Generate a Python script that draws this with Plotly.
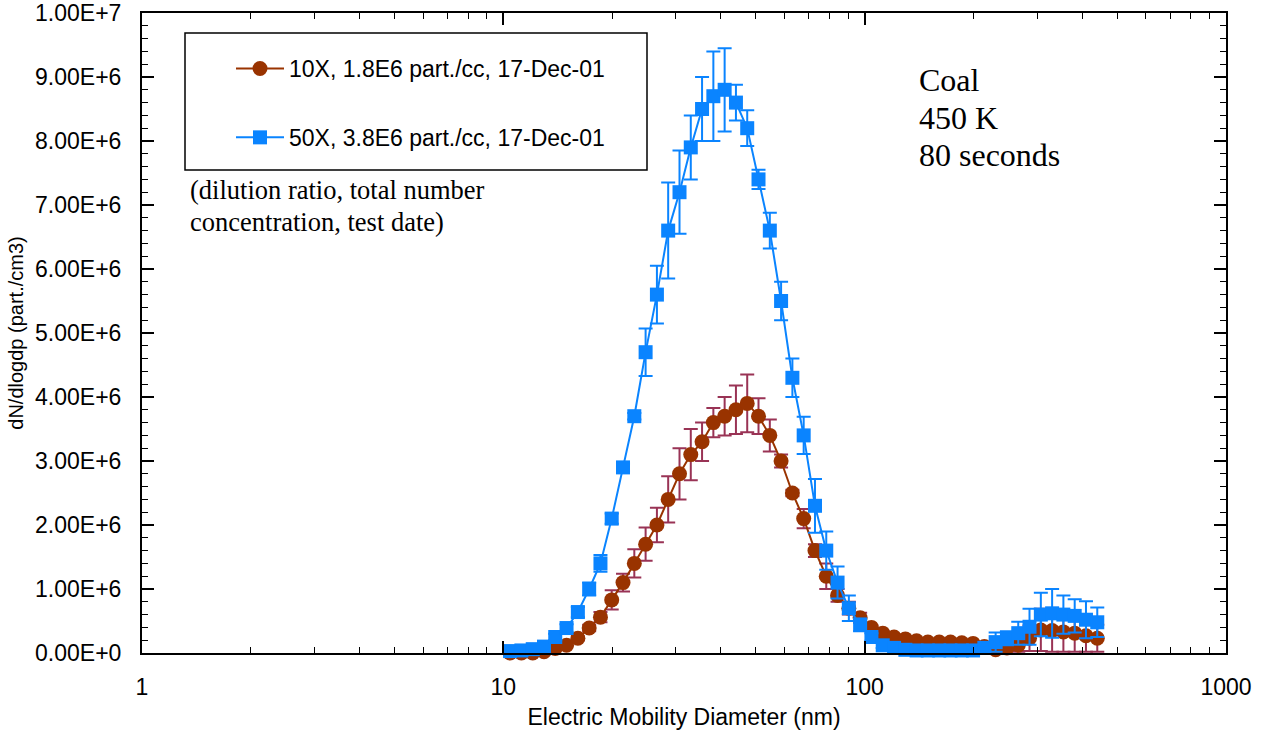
import plotly.graph_objects as go

# Channel diameters (nm)
diam = [10.44, 11.22, 12.06, 12.96, 13.92, 14.96, 16.08, 17.28, 18.57, 19.95,
        21.44, 23.04, 24.76, 26.61, 28.59, 30.73, 33.02, 35.48, 38.13, 40.97,
        44.03, 47.31, 50.84, 54.64, 58.71, 63.09, 67.80, 72.86, 78.29, 84.13,
        90.41, 97.15, 104.4, 112.2, 120.6, 129.6, 139.2, 149.6, 160.8, 172.8,
        185.7, 199.5, 214.4, 230.4, 247.6, 266.1, 285.9, 307.3, 330.2, 354.8,
        381.3, 409.7, 440.3]

# 10X series (millions of part./cm3)
red_vals = [0.0, 0.0, 0.0, 0.02, 0.07, 0.12, 0.23, 0.39, 0.56, 0.83,
            1.1, 1.4, 1.7, 2.0, 2.4, 2.8, 3.1, 3.3, 3.6, 3.7,
            3.8, 3.9, 3.7, 3.4, 3.0, 2.5, 2.1, 1.6, 1.2, 0.9,
            0.7, 0.55, 0.4, 0.31, 0.25, 0.22, 0.19, 0.17, 0.17, 0.17,
            0.16, 0.15, 0.1, 0.05, 0.08, 0.12, 0.23, 0.36, 0.35, 0.33,
            0.31, 0.27, 0.23]
red_err = [0.01, 0.01, 0.01, 0.01, 0.01, 0.01, 0.03, 0.05, 0.08, 0.15,
           0.14, 0.22, 0.26, 0.27, 0.36, 0.4, 0.4, 0.3, 0.23, 0.3,
           0.38, 0.45, 0.28, 0.25, 0.1, 0.05, 0.15, 0.1, 0.2, 0.1,
           0.1, 0.08, 0.03, 0.03, 0.03, 0.03, 0.03, 0.03, 0.03, 0.03,
           0.03, 0.03, 0.03, 0.03, 0.05, 0.1, 0.2, 0.33, 0.33, 0.31,
           0.29, 0.25, 0.21]

# 50X series (millions of part./cm3)
blue_vals = [0.03, 0.04, 0.06, 0.1, 0.25, 0.39, 0.64, 1.0, 1.4, 2.1,
             2.9, 3.7, 4.7, 5.6, 6.6, 7.2, 7.9, 8.5, 8.7, 8.8,
             8.6, 8.2, 7.4, 6.6, 5.5, 4.3, 3.4, 2.3, 1.6, 1.1,
             0.7, 0.44, 0.25, 0.12, 0.08, 0.05, 0.04, 0.04, 0.04, 0.04,
             0.04, 0.04, 0.08, 0.17, 0.23, 0.31, 0.41, 0.6, 0.62, 0.6,
             0.58, 0.52, 0.48]
blue_err = [0.02, 0.02, 0.03, 0.03, 0.05, 0.06, 0.08, 0.1, 0.13, 0.08,
            0.06, 0.05, 0.37, 0.45, 0.75, 0.65, 0.5, 0.5, 0.7, 0.65,
            0.28, 0.28, 0.15, 0.28, 0.3, 0.3, 0.29, 0.42, 0.3, 0.25,
            0.2, 0.1, 0.06, 0.04, 0.02, 0.02, 0.02, 0.02, 0.02, 0.02,
            0.02, 0.02, 0.05, 0.15, 0.11, 0.18, 0.28, 0.34, 0.38, 0.3,
            0.26, 0.29, 0.23]

red_name = "10X, 1.8E6 part./cc, 17-Dec-01"
blue_name = "50X, 3.8E6 part./cc, 17-Dec-01"

y_ticks = [i * 1e6 for i in range(11)]
y_ticktext = ["0.00E+0", "1.00E+6", "2.00E+6", "3.00E+6", "4.00E+6", "5.00E+6",
              "6.00E+6", "7.00E+6", "8.00E+6", "9.00E+6", "1.00E+7"]
x_ticks = [1, 10, 100, 1000]
x_ticktext = ["1", "10", "100", "1000"]
x_minor = [m * 10 ** e for e in range(0, 3) for m in range(2, 10)]

RED = "#993300"
RED_ERR = "#993355"
BLUE = "#0A84FF"
ARIAL = "Liberation Sans, Arial, sans-serif"
TIMES = "Liberation Serif, Times New Roman, serif"

fig = go.Figure()
fig.add_trace(go.Scatter(
    x=diam, y=[v * 1e6 for v in red_vals], name=red_name, legendgroup="a",
    mode="lines+markers", cliponaxis=False,
    line=dict(color=RED, width=2),
    marker=dict(symbol="circle", size=15, color=RED),
    error_y=dict(type="data", array=[e * 1e6 for e in red_err], color=RED_ERR,
                 thickness=2, width=7),
))
fig.add_trace(go.Scatter(
    x=diam, y=[v * 1e6 for v in blue_vals], name=blue_name, legendgroup="b",
    mode="lines+markers", cliponaxis=False,
    line=dict(color=BLUE, width=2),
    marker=dict(symbol="square", size=14, color=BLUE),
    error_y=dict(type="data", array=[e * 1e6 for e in blue_err], color=BLUE,
                 thickness=2, width=7),
))

W, H = 1262, 733
L, T = 142, 13
pw, ph = 1084, 640
R, B = W - L - pw, H - T - ph


def px(xp):
    return (xp - L) / pw


def py(yp):
    return (H - B - yp) / ph


fig.add_shape(type="rect", xref="paper", yref="paper",
              x0=px(185), x1=px(647), y0=py(170), y1=py(33),
              line=dict(color="black", width=1.5), fillcolor="rgba(0,0,0,0)")

annots = [
    ("(dilution ratio, total number", 188, 190, 26.5),
    ("concentration, test date)", 188, 222, 26.5),
    ("Coal", 917, 80, 32),
    ("450 K", 917, 118, 32),
    ("80 seconds", 917, 155, 32),
]
for txt, xp, yp, fs in annots:
    fig.add_annotation(text=txt, xref="paper", yref="paper", x=px(xp), y=py(yp),
                       xanchor="left", yanchor="middle", showarrow=False,
                       font=dict(family=TIMES, size=fs, color="black"))

fig.update_layout(
    width=W, height=H,
    margin=dict(l=L, r=R, t=T, b=B, autoexpand=False),
    paper_bgcolor="white", plot_bgcolor="white",
    font=dict(family=ARIAL, size=23, color="black"),
    showlegend=True,
    legend=dict(x=px(231), y=py(47), xanchor="left", yanchor="top",
                bgcolor="rgba(0,0,0,0)", borderwidth=0,
                font=dict(family=ARIAL, size=23, color="black"),
                tracegroupgap=36, itemwidth=48),
)
fig.update_xaxes(
    type="log", range=[0, 3], tickvals=x_ticks, ticktext=x_ticktext,
    ticks="inside", ticklen=12, tickwidth=1.5, tickcolor="black",
    minor=dict(tickvals=x_minor, ticks="inside", ticklen=6, tickwidth=1, tickcolor="black"),
    showline=True, linecolor="black", linewidth=2, mirror="allticks",
    showgrid=False, zeroline=False, ticklabelstandoff=12, automargin=False,
    tickfont=dict(family=ARIAL, size=23),
    title=dict(text="Electric Mobility Diameter (nm)", font=dict(family=ARIAL, size=23), standoff=10),
)
fig.update_yaxes(
    range=[0, 1e7], tickvals=y_ticks, ticktext=y_ticktext,
    ticks="inside", ticklen=12, tickwidth=1.5, tickcolor="black",
    minor=dict(dtick=2e5, ticks="inside", ticklen=6, tickwidth=1, tickcolor="black"),
    showline=True, linecolor="black", linewidth=2, mirror="allticks",
    showgrid=False, zeroline=False, ticklabelstandoff=14, ticklabeloverflow="allow",
    automargin=False,
    tickfont=dict(family=ARIAL, size=23),
    title=dict(text="dN/dlogdp (part./cm3)", font=dict(family=ARIAL, size=20), standoff=6),
)

fig.write_html("out.html", config={"displayModeBar": False},
               post_script="document.body.style.margin='0';document.body.style.overflow='hidden';")
